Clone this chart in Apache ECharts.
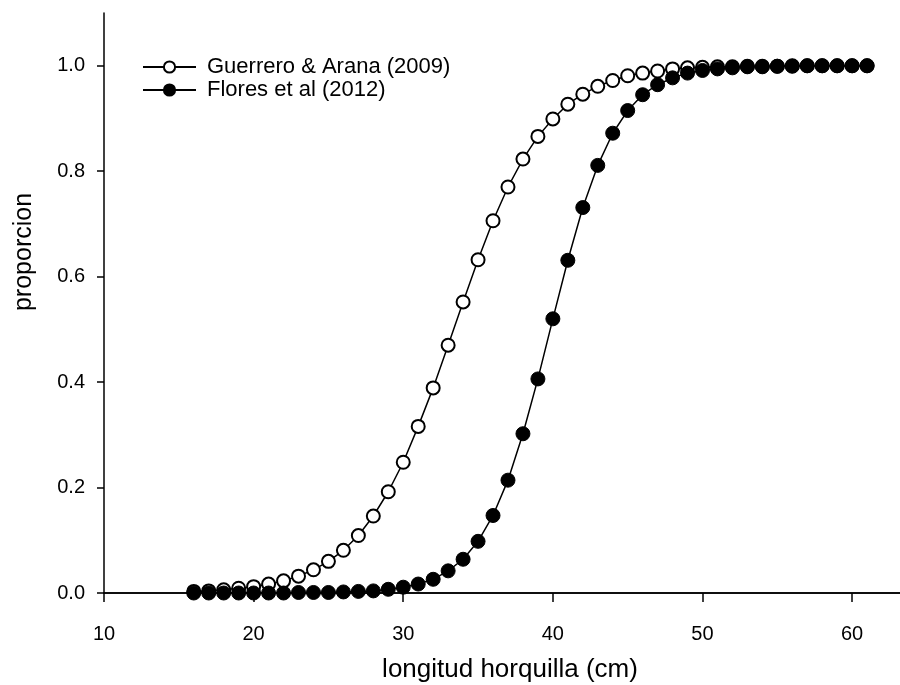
<!DOCTYPE html>
<html>
<head>
<meta charset="utf-8">
<script src="https://cdn.jsdelivr.net/npm/echarts@6/dist/echarts.min.js"></script>
<style>html,body{margin:0;padding:0;background:#fff;}#c{width:900px;height:685px;}</style>
</head>
<body>
<div id="c"></div>
<script>
var lengths = [16,17,18,19,20,21,22,23,24,25,26,27,28,29,30,31,32,33,34,35,36,37,38,39,40,41,42,43,44,45,46,47,48,49,50,51,52,53,54,55,56,57,58,59,60,61];
var guerreroArana = [0.003,0.004,0.006,0.009,0.012,0.017,0.023,0.032,0.044,0.060,0.081,0.109,0.146,0.192,0.248,0.316,0.389,0.470,0.552,0.632,0.706,0.770,0.823,0.866,0.899,0.927,0.946,0.961,0.972,0.981,0.986,0.990,0.994,0.996,0.997,0.998,0.998,0.999,0.999,0.999,1.000,1.000,1.000,1.000,1.000,1.000];
var floresEtAl = [0.000,0.000,0.000,0.000,0.000,0.000,0.000,0.001,0.001,0.001,0.002,0.003,0.004,0.007,0.011,0.017,0.026,0.042,0.064,0.098,0.147,0.214,0.302,0.406,0.520,0.631,0.731,0.811,0.872,0.915,0.945,0.964,0.977,0.986,0.991,0.994,0.996,0.998,0.998,0.999,0.999,1.000,1.000,1.000,1.000,1.000];
var seriesNames = ["Guerrero & Arana (2009)", "Flores et al (2012)"];
var xTitle = "longitud horquilla (cm)";
var yTitle = "proporcion";

function pairs(ys){ return lengths.map(function(x,i){ return [x, ys[i]]; }); }

var FONT = '"Liberation Sans", Arial, sans-serif';
var chart = echarts.init(document.getElementById('c'), null, {renderer:'canvas'});
chart.setOption({
  animation: false,
  backgroundColor: '#fff',
  grid: {left:104, right:0, top:13, bottom:92, containLabel:false},
  legend: {
    orient:'vertical', left:137, top:51, itemWidth:53, itemHeight:14, itemGap:1,
    textStyle:{fontFamily:FONT, fontSize:22, color:'#000', padding:[0,0,0,6]},
    data: seriesNames
  },
  xAxis: [{
    type:'value', min:10, max:63.2, interval:10, position:'bottom',
    axisLine:{show:true, onZero:false, lineStyle:{color:'#000', width:1.5}},
    axisTick:{show:true, inside:false, length:9, lineStyle:{color:'#000', width:1.5}},
    axisLabel:{show:true, margin:31, showMaxLabel:false, color:'#000', fontFamily:FONT, fontSize:20},
    splitLine:{show:false}
  },{
    type:'value', min:10, max:63.2, position:'top',
    axisLine:{show:true, lineStyle:{color:'#000', width:1.5}},
    axisTick:{show:false}, axisLabel:{show:false}, splitLine:{show:false}
  }],
  yAxis: {
    type:'value', min:0, max:1.1, interval:0.2,
    axisLine:{show:true, onZero:false, lineStyle:{color:'#000', width:1.5}},
    axisTick:{show:true, length:7, lineStyle:{color:'#000', width:1.5}},
    axisLabel:{show:true, margin:19, showMaxLabel:false, color:'#000', fontFamily:FONT, fontSize:20,
      formatter:function(v){ return v.toFixed(1); }},
    splitLine:{show:false}
  },
  graphic: [
    {type:'text', x:510, y:670, style:{text:xTitle, fontFamily:FONT, fontSize:26, fill:'#000', textAlign:'center', textVerticalAlign:'middle'}},
    {type:'text', x:24, y:252, rotation:Math.PI/2, style:{text:yTitle, fontFamily:FONT, fontSize:25, fill:'#000', textAlign:'center', textVerticalAlign:'middle'}}
  ],
  series: [
    {
      name: seriesNames[0], type:'line', xAxisIndex:0, data: pairs(guerreroArana),
      symbol:'circle', symbolSize:13, showAllSymbol:true,
      lineStyle:{color:'#000', width:1.5},
      itemStyle:{color:'#fff', borderColor:'#000', borderWidth:2}
    },
    {
      name: seriesNames[1], type:'line', xAxisIndex:0, data: pairs(floresEtAl),
      symbol:'circle', symbolSize:14, showAllSymbol:true,
      lineStyle:{color:'#000', width:1.5},
      itemStyle:{color:'#000', borderColor:'#000', borderWidth:1}
    }
  ]
});
</script>
</body>
</html>
